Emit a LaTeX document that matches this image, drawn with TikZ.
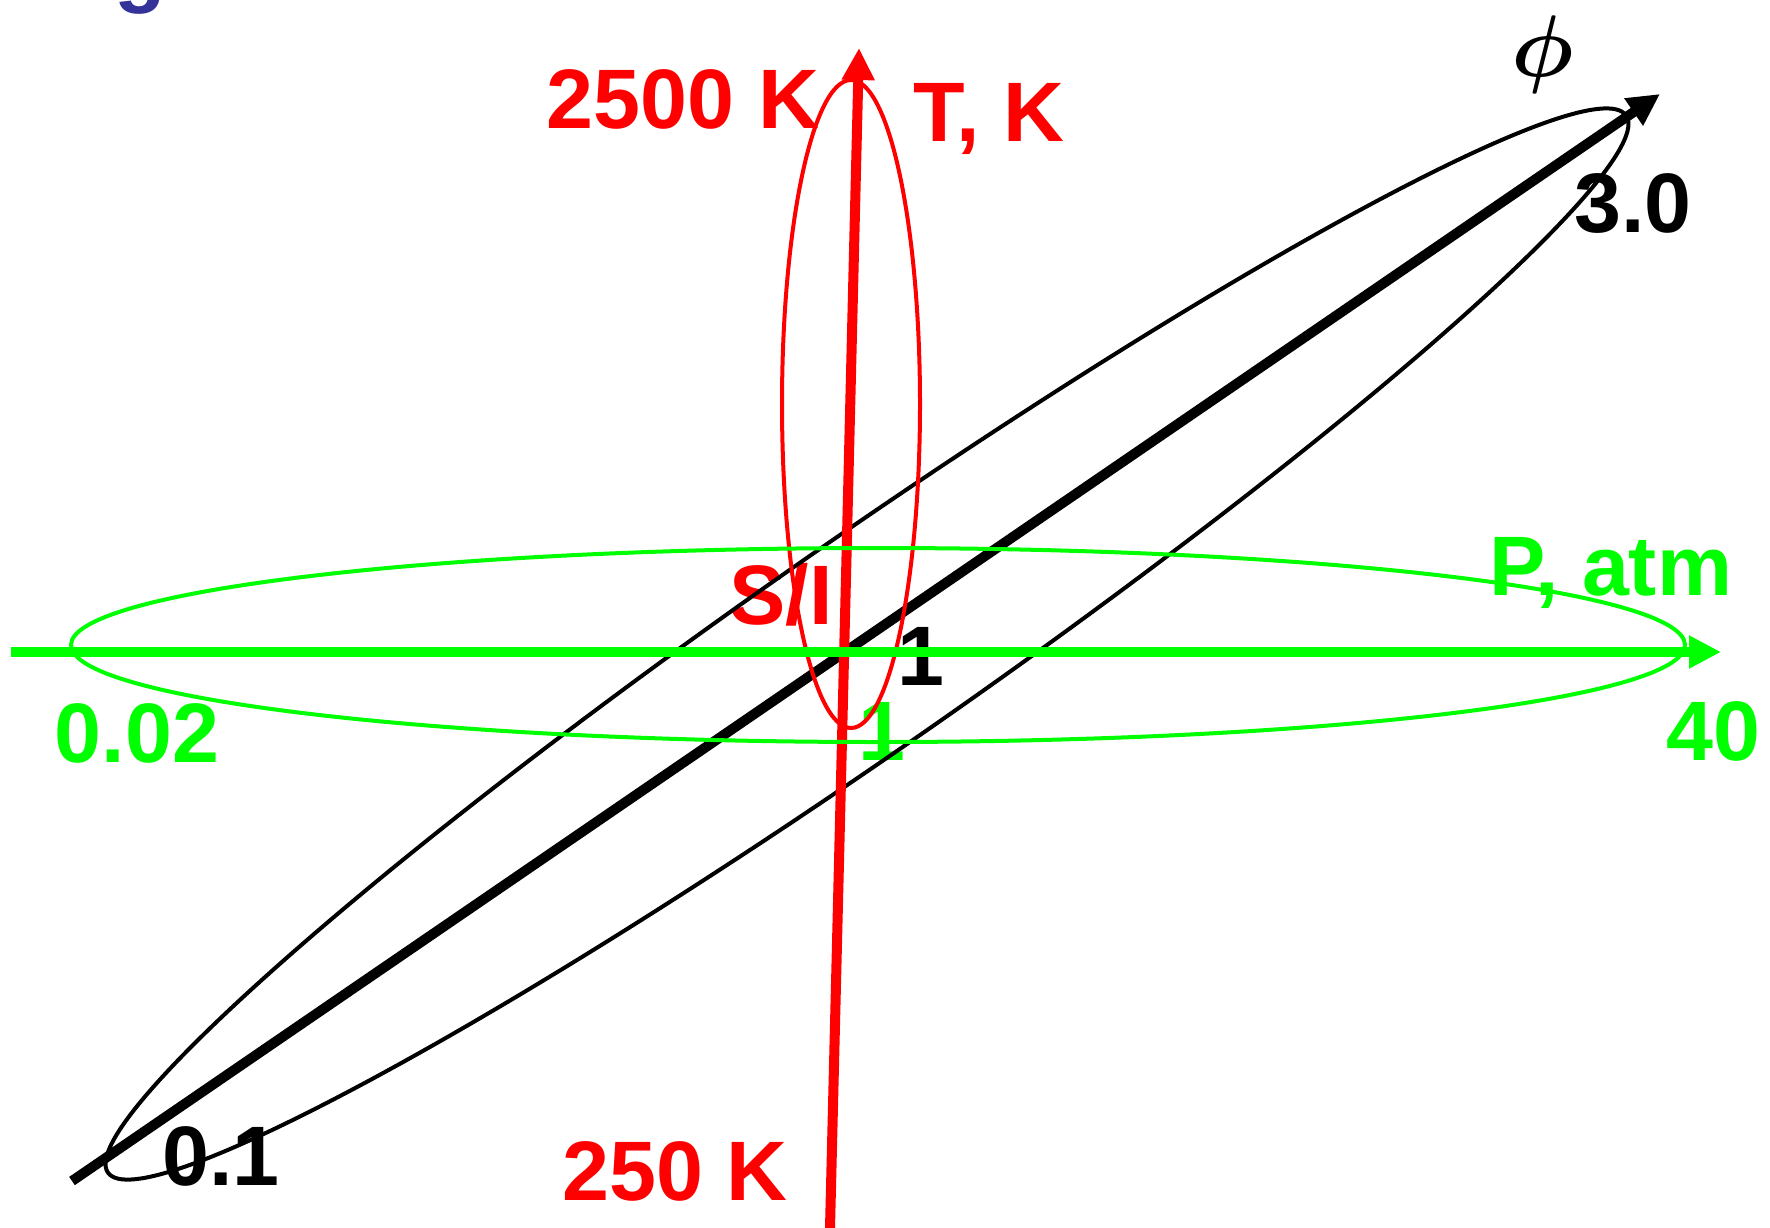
\documentclass[tikz,border=0pt]{standalone}
\usepackage{amsmath}
\usepackage{fontspec}
\setmainfont{Liberation Sans}
\usepackage{tikz}
\usetikzlibrary{arrows.meta}
\definecolor{pgreen}{HTML}{00FF00}
\definecolor{tred}{HTML}{FF0000}
\definecolor{titleblue}{HTML}{333399}
\begin{document}
\begin{tikzpicture}[x=0.01cm,y=-0.01cm,
    every node/.style={font={\fontsize{24}{29}\selectfont\bfseries},inner sep=0pt,anchor=base}]
      \tikzstyle{axis}=[line width=0.1cm,-{Triangle[length=0.32cm,width=0.31cm]}];
      \tikzstyle{region}=[line width=0.04cm];
      \clip (0,0) rectangle (1770,1227);
      \node[titleblue] (title) at (140,-3) {g};
      \node[tred] (tmax)   at (683,128)  {2500 K};
      \node[tred] (tlabel) at (989,141)  {T, K};
      \node[tred] (tmin)   at (675,1200) {250 K};
      \node[tred] (si)     at (781,624)  {S/I};
      \node[pgreen] (pmin)   at (137,762)  {0.02};
      \node[pgreen] (pmax)   at (1713,760) {40};
      \node[pgreen] (pone)   at (882,760)  {1};
      \node[pgreen] (plabel) at (1611,595) {P, atm};
      \node (phimax) at (1633,232)  {3.0};
      \node (phimin) at (221,1185)  {0.1};
      \node (phione) at (921,685)   {1};
      \node[anchor=center,font={\fontsize{33}{40}\selectfont}] (philabel) at (1543,55) {$\boldsymbol{\phi}$};
      \coordinate (phistart) at (72,1181);
      \coordinate (phiend)   at (1660,94);
      \coordinate (tstart)   at (829.7,1240);
      \coordinate (tend)     at (859,48);
      \coordinate (pstart)   at (11,652);
      \coordinate (pend)     at (1721,652);
      \coordinate (phic) at (867,644);
      \draw[region,rotate around={34.85:(phic)}] (phic) ellipse [x radius=925, y radius=105];
      \draw[axis] (phistart) -- (phiend);
      \draw[axis,tred] (tstart) -- (tend);
      \draw[region,tred] (851,404) ellipse [x radius=69, y radius=324];
      \draw[axis,pgreen] (pstart) -- (pend);
      \draw[region,pgreen] (878,645) ellipse [x radius=807, y radius=97];
\end{tikzpicture}
\end{document}
